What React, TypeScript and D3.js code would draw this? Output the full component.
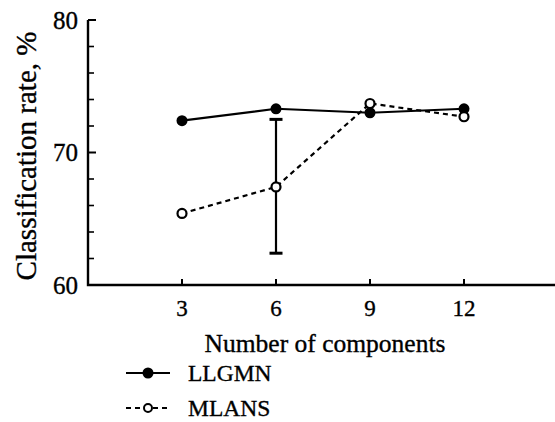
import { useEffect, useRef } from "react";
import * as d3 from "d3";

const components = [3, 6, 9, 12];
const llgmn = [72.4, 73.3, 73.0, 73.3];
const mlans = [65.4, 67.4, 73.7, 72.7];
// error bar at 6 components (MLANS)
const errX = 6;
const errLow = 62.4;
const errHigh = 72.5;
const yTicks = [60, 70, 80];
const yMinorTicks = [62, 64, 66, 68, 72, 74, 76, 78];
const seriesNames = ["LLGMN", "MLANS"];

const font = "Liberation Serif, Times New Roman, serif";

export default function App() {
  const svgRef = useRef<SVGSVGElement>(null);

  useEffect(() => {
    if (!svgRef.current) return;
    const svg = d3.select(svgRef.current);
    svg.selectAll("*").remove();

    const x = d3.scaleLinear().domain([0, 15]).range([88, 558]);
    const y = d3.scaleLinear().domain([60, 80]).range([285, 20]);

    // axes
    svg
      .append("path")
      .attr("d", `M${x(0)},${y(80)}V${y(60)}H555`)
      .attr("fill", "none")
      .attr("stroke", "#000")
      .attr("stroke-width", 2.4);

    svg
      .selectAll(".ymaj")
      .data(yTicks)
      .join("line")
      .attr("x1", x(0))
      .attr("x2", x(0) + 8)
      .attr("y1", (d) => y(d))
      .attr("y2", (d) => y(d))
      .attr("stroke", "#000")
      .attr("stroke-width", 2);

    svg
      .selectAll(".ymin")
      .data(yMinorTicks)
      .join("line")
      .attr("x1", x(0))
      .attr("x2", x(0) + 6)
      .attr("y1", (d) => y(d))
      .attr("y2", (d) => y(d))
      .attr("stroke", "#000")
      .attr("stroke-width", 1.6);

    const txt = (sel: d3.Selection<any, any, any, any>, size: number) =>
      sel
        .attr("font-family", font)
        .attr("font-size", size)
        .attr("fill", "#000")
        .attr("stroke", "#000")
        .attr("stroke-width", 0.35);

    svg
      .selectAll(".ylab")
      .data(yTicks)
      .join("text")
      .attr("x", x(0) - 10)
      .attr("y", (d) => y(d) + 8.5)
      .attr("text-anchor", "end")
      .call(txt, 25)
      .text((d) => d);

    svg
      .selectAll(".xtick")
      .data(components)
      .join("line")
      .attr("x1", (d) => x(d))
      .attr("x2", (d) => x(d))
      .attr("y1", y(60))
      .attr("y2", y(60) - 6)
      .attr("stroke", "#000")
      .attr("stroke-width", 2);

    svg
      .selectAll(".xlab")
      .data(components)
      .join("text")
      .attr("x", (d) => x(d))
      .attr("y", 316)
      .attr("text-anchor", "middle")
      .call(txt, 23)
      .text((d) => d);

    svg
      .append("text")
      .attr("x", 325)
      .attr("y", 352)
      .attr("text-anchor", "middle")
      .call(txt, 25.5)
      .text("Number of components");

    svg
      .append("text")
      .attr("transform", `translate(36,${156}) rotate(-90)`)
      .attr("text-anchor", "middle")
      .call(txt, 29)
      .text("Classification rate, %");

    // error bar
    svg
      .append("line")
      .attr("x1", x(errX))
      .attr("x2", x(errX))
      .attr("y1", y(errLow))
      .attr("y2", y(errHigh))
      .attr("stroke", "#000")
      .attr("stroke-width", 2.2);
    svg
      .selectAll(".cap")
      .data([errLow, errHigh])
      .join("line")
      .attr("x1", x(errX) - 6.5)
      .attr("x2", x(errX) + 6.5)
      .attr("y1", (d) => y(d))
      .attr("y2", (d) => y(d))
      .attr("stroke", "#000")
      .attr("stroke-width", 3);

    const line = d3
      .line<number>()
      .x((_, i) => x(components[i]))
      .y((d) => y(d));

    svg
      .append("path")
      .datum(mlans)
      .attr("d", line)
      .attr("fill", "none")
      .attr("stroke", "#000")
      .attr("stroke-width", 2.2)
      .attr("stroke-dasharray", "5,4");

    svg
      .append("path")
      .datum(llgmn)
      .attr("d", line)
      .attr("fill", "none")
      .attr("stroke", "#000")
      .attr("stroke-width", 2.2);

    svg
      .selectAll(".ll")
      .data(llgmn)
      .join("circle")
      .attr("cx", (_, i) => x(components[i]))
      .attr("cy", (d) => y(d))
      .attr("r", 5.5)
      .attr("fill", "#000");

    svg
      .selectAll(".ml")
      .data(mlans)
      .join("circle")
      .attr("cx", (_, i) => x(components[i]))
      .attr("cy", (d) => y(d))
      .attr("r", 4.5)
      .attr("fill", "#fff")
      .attr("stroke", "#000")
      .attr("stroke-width", 2.2);

    // legend
    const lg = svg.append("g");
    seriesNames.forEach((name, i) => {
      const ly = 373 + i * 35;
      lg.append("line")
        .attr("x1", 126)
        .attr("x2", 170)
        .attr("y1", ly)
        .attr("y2", ly)
        .attr("stroke", "#000")
        .attr("stroke-width", 2.2)
        .attr("stroke-dasharray", i === 0 ? null : "5,4");
      lg.append("circle")
        .attr("cx", 148)
        .attr("cy", ly)
        .attr("r", i === 0 ? 5.5 : 4)
        .attr("fill", i === 0 ? "#000" : "#fff")
        .attr("stroke", "#000")
        .attr("stroke-width", i === 0 ? 0 : 2);
      lg.append("text")
        .attr("x", 188)
        .attr("y", ly + 8)
        .call(txt, 23.5)
        .text(name);
    });
  }, []);

  return (
    <svg
      ref={svgRef}
      width={555}
      height={422}
      style={{ position: "absolute", left: 0, top: 0, background: "#fff" }}
    />
  );
}
